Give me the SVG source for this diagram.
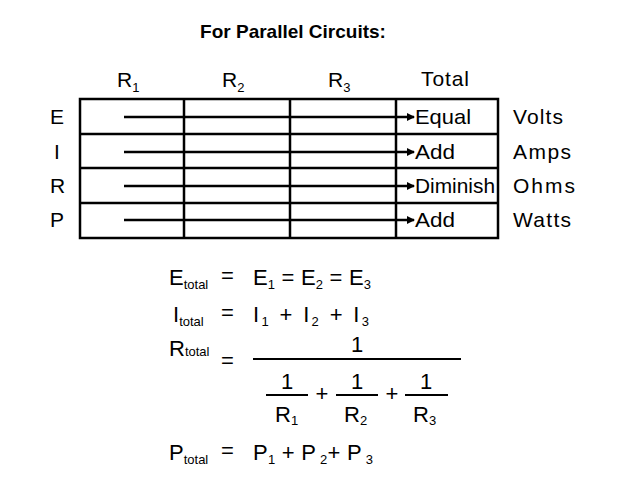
<svg xmlns="http://www.w3.org/2000/svg" width="643" height="487" viewBox="0 0 643 487">
<style>
text{font-family:"Liberation Sans",Arial,sans-serif;fill:#000}
.t{font-size:21px}
.q{font-size:22px}
.s{font-size:13px}
.g{stroke:#000;stroke-width:2.5;fill:none}
.a{stroke:#000;stroke-width:2.5;marker-end:url(#ah)}
.f{stroke:#000;stroke-width:2}
</style>
<defs><marker id="ah" markerWidth="8" markerHeight="8" refX="7" refY="4" orient="auto" markerUnits="userSpaceOnUse"><path d="M0,0L8,4L0,8z" fill="#000"/></marker></defs>
<rect width="643" height="487" fill="#fff"/>
<text x="293" y="38" text-anchor="middle" font-size="19" font-weight="bold">For Parallel Circuits:</text>
<g id="headers" class="t">
<text x="117" y="87">R<tspan class="s" dy="5">1</tspan></text>
<text x="222" y="87">R<tspan class="s" dy="5">2</tspan></text>
<text x="328" y="87">R<tspan class="s" dy="5">3</tspan></text>
<text x="421" y="86" textLength="48">Total</text>
<text x="50" y="124">E</text><text x="54" y="159">I</text><text x="50" y="193">R</text><text x="50" y="227">P</text>
<text x="513" y="124" textLength="50">Volts</text><text x="513" y="159" textLength="58">Amps</text><text x="513" y="193" textLength="62">Ohms</text><text x="513" y="227" textLength="58">Watts</text>
</g>
<g id="table" class="g">
<rect x="80" y="99" width="418" height="139"/>
<path d="M184,99V238M290,99V238M396,99V238M80,134H498M80,168H498M80,203H498"/>
</g>
<g id="connectors">
<line class="a" x1="124" y1="117" x2="414" y2="117"/>
<line class="a" x1="124" y1="152" x2="414" y2="152"/>
<line class="a" x1="124" y1="186" x2="414" y2="186"/>
<line class="a" x1="124" y1="220" x2="414" y2="220"/>
</g>
<g id="totals" class="t">
<text x="415" y="124" textLength="56" lengthAdjust="spacingAndGlyphs">Equal</text><text x="415" y="159" textLength="40" lengthAdjust="spacingAndGlyphs">Add</text><text x="415" y="193" textLength="80" lengthAdjust="spacingAndGlyphs">Diminish</text><text x="415" y="227" textLength="40" lengthAdjust="spacingAndGlyphs">Add</text>
</g>
<g id="formulas" class="q">
<text x="169" y="285">E<tspan class="s" dy="4">total</tspan></text><text x="221" y="283">=</text>
<text x="253" y="285" textLength="118">E<tspan class="s" dy="4">1</tspan><tspan dy="-4"> = E</tspan><tspan class="s" dy="4">2</tspan><tspan dy="-4"> = E</tspan><tspan class="s" dy="4">3</tspan></text>
<text x="173" y="322">I<tspan class="s" dy="4">total</tspan></text><text x="221" y="320">=</text>
<text x="253" y="322" textLength="116">I<tspan class="s" dy="4">1</tspan><tspan dy="-4"> + I</tspan><tspan class="s" dy="4">2</tspan><tspan dy="-4"> + I</tspan><tspan class="s" dy="4">3</tspan></text>
<text x="169" y="356">R<tspan class="s">total</tspan></text><text x="221" y="368">=</text>
<text x="357" y="352" text-anchor="middle">1</text>
<line class="f" x1="253" y1="359" x2="461" y2="359"/>
<text x="287" y="389" text-anchor="middle">1</text><line class="f" x1="266" y1="395" x2="308" y2="395"/>
<text x="275" y="422">R<tspan class="s" dy="3">1</tspan></text>
<text x="322" y="401" text-anchor="middle">+</text>
<text x="357" y="389" text-anchor="middle">1</text><line class="f" x1="336" y1="395" x2="378" y2="395"/>
<text x="344" y="422">R<tspan class="s" dy="3">2</tspan></text>
<text x="392" y="401" text-anchor="middle">+</text>
<text x="426" y="389" text-anchor="middle">1</text><line class="f" x1="405" y1="395" x2="448" y2="395"/>
<text x="413" y="422">R<tspan class="s" dy="3">3</tspan></text>
<text x="169" y="460">P<tspan class="s" dy="4">total</tspan></text><text x="221" y="458">=</text>
<text x="253" y="460" textLength="120">P<tspan class="s" dy="4">1</tspan><tspan dy="-4"> + P</tspan><tspan class="s" dy="4"> 2</tspan><tspan dy="-4">+ P</tspan><tspan class="s" dy="4"> 3</tspan></text>
</g>
</svg>
